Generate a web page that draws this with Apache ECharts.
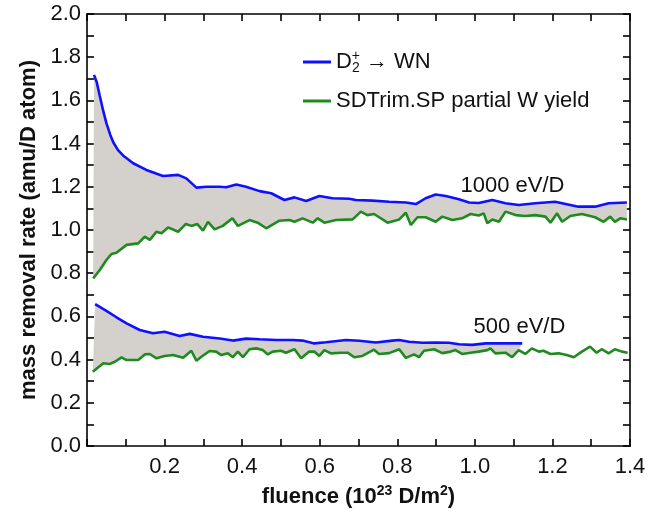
<!DOCTYPE html>
<html>
<head>
<meta charset="utf-8">
<script src="https://cdn.jsdelivr.net/npm/echarts@6/dist/echarts.min.js"></script>
<style>
html,body{margin:0;padding:0;background:#fff;}
#c{width:649px;height:515px;}
</style>
</head>
<body>
<div id="c"></div>
<script>
// ---- data (fluence in 1e23 D/m^2, mass removal rate in amu/D atom) ----
const blue1000 = [
[0.018,1.718],[0.025,1.685],[0.033,1.62],[0.042,1.55],[0.05,1.495],[0.06,1.44],[0.068,1.405],
[0.08,1.37],[0.093,1.345],[0.119,1.309],[0.153,1.278],
[0.196,1.25],[0.235,1.255],[0.256,1.239],[0.282,1.196],[0.308,1.2],[0.342,1.2],[0.359,1.198],
[0.385,1.211],[0.41,1.2],[0.445,1.18],[0.475,1.17],[0.509,1.139],[0.535,1.151],[0.565,1.134],
[0.599,1.157],[0.633,1.147],[0.676,1.145],[0.693,1.139],[0.736,1.136],[0.779,1.131],[0.822,1.127],
[0.848,1.12],[0.873,1.147],[0.899,1.164],[0.925,1.157],[0.959,1.142],[0.985,1.127],[1.01,1.125],
[1.045,1.139],[1.079,1.124],[1.113,1.116],[1.156,1.124],[1.207,1.131],[1.267,1.108],[1.31,1.108],
[1.345,1.124],[1.392,1.127]
];
const green1000 = [
[0.016,0.776],[0.033,0.815],[0.05,0.861],[0.063,0.889],[0.076,0.895],[0.102,0.931],[0.132,0.938],
[0.149,0.969],[0.162,0.954],[0.179,0.992],[0.192,0.985],[0.209,1.012],[0.235,0.992],[0.255,1.028],
[0.269,1.019],[0.284,1.028],[0.299,0.997],[0.312,1.038],[0.329,1.003],[0.35,1.019],[0.375,1.054],
[0.389,1.019],[0.419,1.046],[0.44,1.034],[0.462,1.008],[0.496,1.043],[0.522,1.046],[0.535,1.038],
[0.556,1.054],[0.582,1.034],[0.595,1.054],[0.612,1.034],[0.642,1.046],[0.685,1.049],[0.706,1.085],
[0.723,1.069],[0.74,1.074],[0.775,1.034],[0.805,1.049],[0.822,1.08],[0.835,1.023],[0.852,1.059],
[0.873,1.059],[0.899,1.038],[0.916,1.062],[0.942,1.046],[0.967,1.054],[0.989,1.074],[1.01,1.067],
[1.023,1.077],[1.032,1.031],[1.045,1.049],[1.062,1.038],[1.079,1.085],[1.105,1.069],[1.13,1.065],
[1.156,1.069],[1.182,1.062],[1.195,1.034],[1.212,1.077],[1.225,1.038],[1.246,1.065],[1.276,1.074],
[1.31,1.059],[1.332,1.038],[1.349,1.062],[1.361,1.038],[1.375,1.054],[1.392,1.049]
];
const blue500 = [
[0.021,0.657],[0.05,0.626],[0.076,0.596],[0.102,0.568],[0.136,0.537],[0.17,0.522],[0.2,0.529],
[0.239,0.509],[0.265,0.519],[0.299,0.506],[0.342,0.498],[0.376,0.488],[0.41,0.497],[0.445,0.494],
[0.488,0.491],[0.53,0.491],[0.556,0.488],[0.586,0.475],[0.616,0.48],[0.668,0.491],[0.702,0.487],
[0.745,0.479],[0.787,0.488],[0.805,0.491],[0.83,0.483],[0.865,0.478],[0.899,0.479],[0.933,0.478],
[0.959,0.471],[0.993,0.468],[1.028,0.475],[1.079,0.475],[1.122,0.475]
];
const green500 = [
[0.015,0.344],[0.042,0.383],[0.059,0.38],[0.072,0.39],[0.089,0.41],[0.102,0.398],[0.132,0.398],
[0.149,0.424],[0.162,0.426],[0.179,0.406],[0.2,0.417],[0.222,0.421],[0.248,0.409],[0.269,0.441],
[0.282,0.395],[0.295,0.413],[0.316,0.44],[0.333,0.437],[0.346,0.421],[0.363,0.429],[0.376,0.411],
[0.389,0.437],[0.402,0.411],[0.419,0.448],[0.436,0.452],[0.453,0.444],[0.466,0.424],[0.479,0.437],
[0.5,0.441],[0.513,0.432],[0.535,0.448],[0.552,0.406],[0.573,0.437],[0.586,0.437],[0.599,0.417],
[0.612,0.444],[0.629,0.429],[0.655,0.432],[0.672,0.432],[0.689,0.411],[0.71,0.417],[0.74,0.446],
[0.753,0.426],[0.779,0.43],[0.805,0.448],[0.822,0.408],[0.843,0.424],[0.856,0.411],[0.869,0.441],
[0.895,0.448],[0.916,0.43],[0.938,0.437],[0.95,0.444],[0.967,0.426],[0.989,0.432],[1.01,0.437],
[1.032,0.444],[1.04,0.452],[1.053,0.429],[1.079,0.432],[1.096,0.411],[1.113,0.444],[1.13,0.426],
[1.147,0.452],[1.165,0.437],[1.177,0.441],[1.195,0.426],[1.216,0.429],[1.237,0.421],[1.255,0.411],
[1.276,0.437],[1.297,0.46],[1.314,0.432],[1.327,0.448],[1.345,0.429],[1.361,0.448],[1.379,0.437],
[1.394,0.432]
];
const seriesNames = ['D2+ → WN', 'SDTrim.SP partial W yield'];
const annotations = [
  {text: '1000 eV/D', at: [1.097, 1.205]},
  {text: '500 eV/D', at: [1.115, 0.553]}
];
const xTicks = {min: 0, max: 1.4, interval: 0.2};
const yTicks = {min: 0, max: 2.0, interval: 0.2};

// ---- styling ----
const BLUE = '#1010ff', GREEN = '#1f8a1f', FILL = '#d4d0cb';
const FONT = 'Liberation Sans, Arial, sans-serif';

function fillBetween(upper, lower) {
  const xEnd = upper[upper.length - 1][0];
  const low = lower.filter(p => p[0] <= xEnd + 1e-9);
  return {
    type: 'custom', silent: true, z: 1,
    data: [0],
    renderItem: function (params, api) {
      const pts = [];
      upper.forEach(p => pts.push(api.coord(p)));
      for (let i = low.length - 1; i >= 0; i--) pts.push(api.coord(low[i]));
      return {type: 'polygon', shape: {points: pts}, style: {fill: FILL, stroke: null}};
    }
  };
}
function lineSeries(name, data, color, ann) {
  const s = {
    type: 'line', name: name, data: data, showSymbol: false, symbol: 'none', z: 3,
    lineStyle: {color: color, width: 2.6}, itemStyle: {color: color}, silent: true
  };
  if (ann) {
    s.markPoint = {
      symbol: 'circle', symbolSize: 1, itemStyle: {color: 'rgba(0,0,0,0)'}, silent: true,
      label: {show: true, position: 'inside', color: '#111', fontSize: 22, fontFamily: FONT,
              formatter: ann.text},
      data: [{coord: ann.at}]
    };
  }
  return s;
}

const axisCommon = {
  axisLine: {show: true, onZero: false, lineStyle: {color: '#000', width: 1.6}},
  axisTick: {show: true, inside: true, length: 7, lineStyle: {color: '#000', width: 1.6}},
  minorTick: {show: true, splitNumber: 2, length: 7, lineStyle: {color: '#000', width: 1.6}},
  splitLine: {show: false}
};

const chart = echarts.init(document.getElementById('c'), null, {renderer: 'canvas'});
chart.setOption({
  animation: false,
  backgroundColor: '#fff',
  grid: {left: 87, right: 19, top: 14, bottom: 69},
  legend: {
    orient: 'vertical', left: 298, top: 44, itemWidth: 28, itemHeight: 3, itemGap: 15,
    icon: 'rect', selectedMode: false,
    data: [{name: seriesNames[0], itemStyle: {color: BLUE}}, {name: seriesNames[1], itemStyle: {color: GREEN}}],
    formatter: function (n) {
      return n === seriesNames[0] ? '{t|D}{s|2}{p|+}{t| → WN}' : '{t|SDTrim.SP partial W yield}';
    },
    textStyle: {
      color: '#111', fontFamily: FONT, fontSize: 22,
      rich: {
        t: {fontSize: 22, fontFamily: FONT, color: '#111', lineHeight: 26},
        s: {fontSize: 14, fontFamily: FONT, color: '#111', verticalAlign: 'bottom', lineHeight: 26},
        p: {fontSize: 14, fontFamily: FONT, color: '#111', verticalAlign: 'top', lineHeight: 26, padding: [0, 0, 0, -8]}
      }
    }
  },
  xAxis: [
    Object.assign({}, axisCommon, {
      type: 'value', min: xTicks.min, max: xTicks.max, interval: xTicks.interval,
      position: 'bottom',
      axisLabel: {color: '#111', fontSize: 22, fontFamily: FONT, margin: 10,
        formatter: v => (Math.abs(v) < 1e-9 ? '' : v.toFixed(1))},
      name: '{b|fluence (10}{sup|23}{b| D/m}{sup|2}{b|)}',
      nameLocation: 'middle', nameGap: 38,
      nameTextStyle: {rich: {
        b: {fontSize: 22, fontWeight: 'bold', fontFamily: FONT, color: '#111', lineHeight: 26},
        sup: {fontSize: 14, fontWeight: 'bold', fontFamily: FONT, color: '#111', verticalAlign: 'top', lineHeight: 26}
      }}
    }),
    Object.assign({}, axisCommon, {
      type: 'value', min: xTicks.min, max: xTicks.max, interval: xTicks.interval,
      position: 'top', axisLabel: {show: false}
    })
  ],
  yAxis: [
    Object.assign({}, axisCommon, {
      type: 'value', min: yTicks.min, max: yTicks.max, interval: yTicks.interval,
      position: 'left',
      axisLabel: {color: '#111', fontSize: 22, fontFamily: FONT, margin: 6, formatter: v => v.toFixed(1)},
      name: 'mass removal rate (amu/D atom)', nameLocation: 'middle', nameGap: 47, nameRotate: 90,
      nameTextStyle: {fontSize: 22, fontWeight: 'bold', fontFamily: FONT, color: '#111'}
    }),
    Object.assign({}, axisCommon, {
      type: 'value', min: yTicks.min, max: yTicks.max, interval: yTicks.interval,
      position: 'right', axisLabel: {show: false}
    })
  ],
  series: [
    fillBetween(blue1000, green1000),
    fillBetween(blue500, green500),
    lineSeries(seriesNames[1], green1000, GREEN),
    lineSeries(seriesNames[1], green500, GREEN),
    lineSeries(seriesNames[0], blue1000, BLUE, annotations[0]),
    lineSeries(seriesNames[0], blue500, BLUE, annotations[1])
  ]
});
</script>
</body>
</html>
